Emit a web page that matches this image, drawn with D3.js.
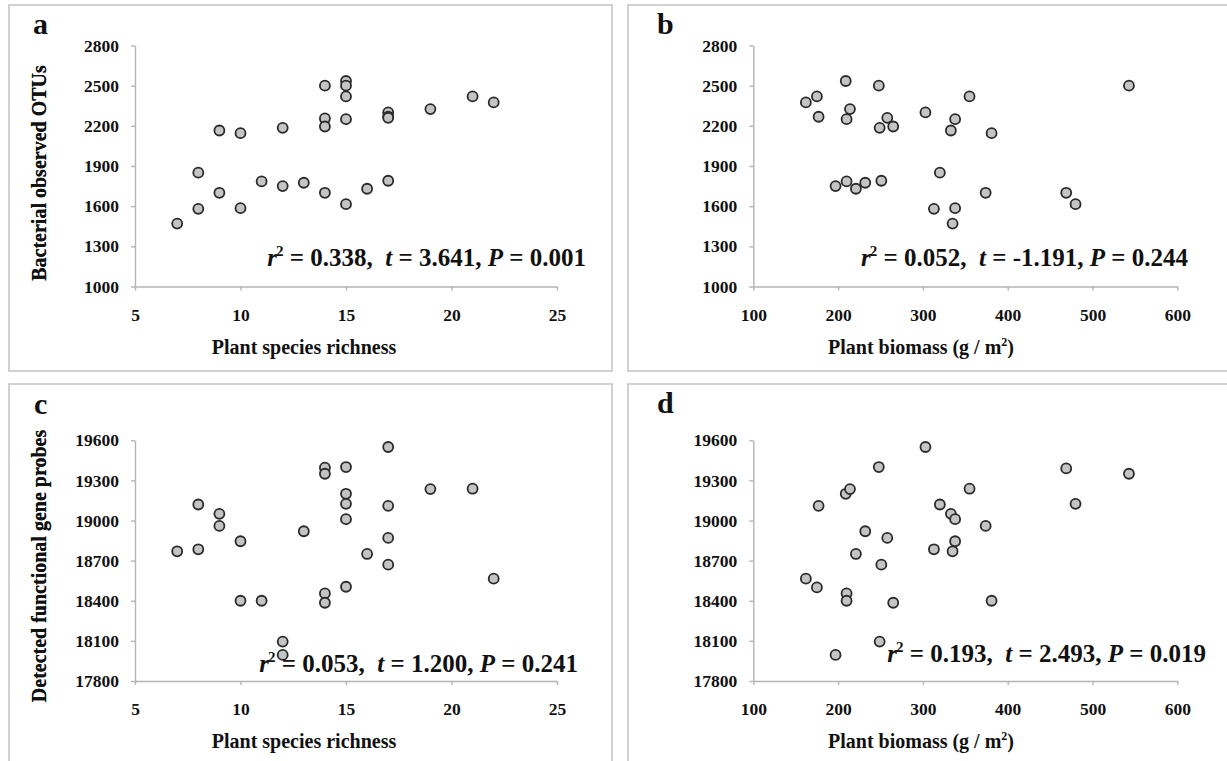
<!DOCTYPE html>
<html>
<head>
<meta charset="utf-8">
<script src="https://cdn.jsdelivr.net/npm/d3@7"></script>
<style>
body { margin: 0; background: #fff; }
text { font-family: "Liberation Serif", "Times New Roman", serif; font-weight: bold; fill: #111; }
</style>
</head>
<body>
<div id="fig"></div>
<script>
// panel a : plant species richness vs bacterial observed OTUs
richnessA = [7, 8, 8, 9, 9, 10, 10, 11, 12, 12, 13, 14, 14, 14, 14, 15, 15, 15, 15, 15, 16, 17, 17, 17, 17, 19, 21, 22]
otusA = [1470, 1850, 1580, 2165, 1700, 2145, 1585, 1785, 2185, 1750, 1775, 2500, 2255, 2195, 1700,
         2535, 2500, 2420, 2250, 1615, 1730, 2300, 2268, 2260, 1790, 2325, 2420, 2375]

// panel b : plant biomass vs bacterial observed OTUs
biomassB = [162, 175, 177, 197, 209, 210, 210, 214, 221, 232, 248, 249, 251, 258, 265, 303, 313, 320,
            333, 335, 338, 338, 355, 374, 381, 469, 480, 543]
otusB = [2375, 2420, 2268, 1750, 2535, 2250, 1785, 2325, 1730, 1775, 2500, 2185, 1790, 2260, 2195, 2300,
         1580, 1850, 2165, 1470, 2250, 1585, 2420, 1700, 2145, 1700, 1615, 2500]

// panel c : plant species richness vs detected functional gene probes
richnessC = [7, 8, 8, 9, 9, 10, 10, 11, 12, 12, 13, 14, 14, 14, 14, 15, 15, 15, 15, 15, 16, 17, 17, 17, 17, 19, 21, 22]
probesC = [18770, 19120, 18785, 19050, 18960, 18845, 18400, 18400, 18095, 17995, 18920, 19395, 19350, 18455,
           18385, 19400, 19200, 19125, 19010, 18505, 18750, 19550, 19110, 18870, 18670, 19235, 19238, 18565]

// panel d : plant biomass vs detected functional gene probes
biomassD = [162, 175, 177, 197, 209, 214, 210, 210, 221, 232, 248, 251, 249, 258, 265, 303, 313, 320,
            333, 335, 338, 338, 355, 374, 381, 469, 480, 543]
probesD = [18565, 18500, 19110, 17995, 19200, 19235, 18455, 18400, 18750, 18920, 19400, 18670, 18095, 18870,
           18385, 19550, 18785, 19120, 19050, 18770, 19010, 18845, 19238, 18960, 18400, 19390, 19125, 19350]

richnessTicks = [5, 10, 15, 20, 25]
biomassTicks = [100, 200, 300, 400, 500, 600]
otuTicks = [1000, 1300, 1600, 1900, 2200, 2500, 2800]
probeTicks = [17800, 18100, 18400, 18700, 19000, 19300, 19600]

statsA = ["0.338", "3.641", "0.001"]
statsB = ["0.052", "-1.191", "0.244"]
statsC = ["0.053", "1.200", "0.241"]
statsD = ["0.193", "2.493", "0.019"]

richnessTitle = "Plant species richness"
biomassTitle = "Plant biomass (g / m"
otuTitle = "Bacterial observed OTUs"
probeTitle = "Detected functional gene probes"

width = 1227
height = 761

svg = d3.select("#fig").append("svg")
  .attr("width", width)
  .attr("height", height)

panels = [
  { letter: "a", xs: richnessA, ys: otusA, xTicks: richnessTicks, yTicks: otuTicks, stats: statsA,
    xTitle: richnessTitle, yTitle: otuTitle, box: [9, 5, 603, 366], left: 135, right: 557, top: 45.5, bottom: 286.5,
    letterX: 33, letterY: 34, statX: 586, statY: 266, xTitleX: 304, xTitleY: 354, yTitleY: 173 },
  { letter: "b", xs: biomassB, ys: otusB, xTicks: biomassTicks, yTicks: otuTicks, stats: statsB,
    xTitle: biomassTitle, yTitle: otuTitle, box: [628, 5, 620, 366], left: 753.3, right: 1177.3, top: 45.5, bottom: 286.5,
    letterX: 657, letterY: 34, statX: 1188, statY: 266, xTitleX: 921, xTitleY: 354, yTitleY: 173 },
  { letter: "c", xs: richnessC, ys: probesC, xTicks: richnessTicks, yTicks: probeTicks, stats: statsC,
    xTitle: richnessTitle, yTitle: probeTitle, box: [9, 384, 603, 400], left: 135, right: 557, top: 440.3, bottom: 681,
    letterX: 34, letterY: 414, statX: 578, statY: 672, xTitleX: 304, xTitleY: 748, yTitleY: 566 },
  { letter: "d", xs: biomassD, ys: probesD, xTicks: biomassTicks, yTicks: probeTicks, stats: statsD,
    xTitle: biomassTitle, yTitle: probeTitle, box: [628, 384, 620, 400], left: 753.3, right: 1177.3, top: 440.3, bottom: 681,
    letterX: 657, letterY: 413, statX: 1206, statY: 662, xTitleX: 921, xTitleY: 748, yTitleY: 566 }
]

panels.forEach(function(p) {
  g = svg.append("g")

  g.append("rect")
    .attr("x", p.box[0]).attr("y", p.box[1])
    .attr("width", p.box[2]).attr("height", p.box[3])
    .attr("fill", "#fff")
    .attr("stroke", "#c6c6c6")
    .attr("stroke-width", 1.6)

  x = d3.scaleLinear().domain(d3.extent(p.xTicks)).range([p.left, p.right])
  y = d3.scaleLinear().domain(d3.extent(p.yTicks)).range([p.bottom, p.top])

  xAxis = g.append("g")
    .attr("transform", "translate(0," + p.bottom + ")")
    .call(d3.axisBottom(x).tickValues(p.xTicks).tickSize(4).tickSizeOuter(0).tickPadding(18).tickFormat(d3.format("d")))
  yAxis = g.append("g")
    .attr("transform", "translate(" + p.left + ",0)")
    .call(d3.axisLeft(y).tickValues(p.yTicks).tickSize(4).tickSizeOuter(0).tickPadding(12).tickFormat(d3.format("d")))

  ;[xAxis, yAxis].forEach(function(a) {
    a.select(".domain").attr("stroke", "#b4b4b4").attr("stroke-width", 1.4)
    a.selectAll(".tick line").attr("stroke", "#b4b4b4").attr("stroke-width", 1.4)
    a.selectAll(".tick text")
      .attr("font-family", '"Liberation Serif", serif')
      .attr("font-weight", "bold")
      .attr("font-size", 17.5)
      .attr("fill", "#111")
  })

  g.append("text")
    .attr("x", p.letterX).attr("y", p.letterY)
    .attr("font-size", 30)
    .text(p.letter)

  xt = g.append("text")
    .attr("x", p.xTitleX).attr("y", p.xTitleY)
    .attr("text-anchor", "middle")
    .attr("font-size", 20)
    .text(p.xTitle)
  if (p.xTitle === biomassTitle) {
    xt.append("tspan").attr("font-size", 12).attr("dy", -8).text("2")
    xt.append("tspan").attr("dy", 8).text(")")
  }

  g.append("text")
    .attr("transform", "translate(46," + p.yTitleY + ") rotate(-90)")
    .attr("text-anchor", "middle")
    .attr("font-size", 20)
    .text(p.yTitle)

  g.selectAll("circle.pt")
    .data(p.xs.map(function(d, i) { return [d, p.ys[i]] }))
    .enter()
    .append("circle")
    .attr("class", "pt")
    .attr("cx", function(d) { return x(d[0]) })
    .attr("cy", function(d) { return y(d[1]) })
    .attr("r", 5)
    .attr("fill", "#c4c4c4")
    .attr("stroke", "#2a2a2a")
    .attr("stroke-width", 1.8)

  st = g.append("text")
    .attr("x", p.statX).attr("y", p.statY)
    .attr("text-anchor", "end")
    .attr("font-size", 25)
    .style("white-space", "pre")
  st.append("tspan").attr("font-style", "italic").text("r")
  st.append("tspan").attr("font-size", 15).attr("dy", -10).attr("dx", -1).text("2")
  st.append("tspan").attr("dy", 10).text(" = " + p.stats[0] + ",  ")
  st.append("tspan").attr("font-style", "italic").text("t")
  st.append("tspan").text(" = " + p.stats[1] + ", ")
  st.append("tspan").attr("font-style", "italic").text("P")
  st.append("tspan").text(" = " + p.stats[2])
})
</script>
</body>
</html>
